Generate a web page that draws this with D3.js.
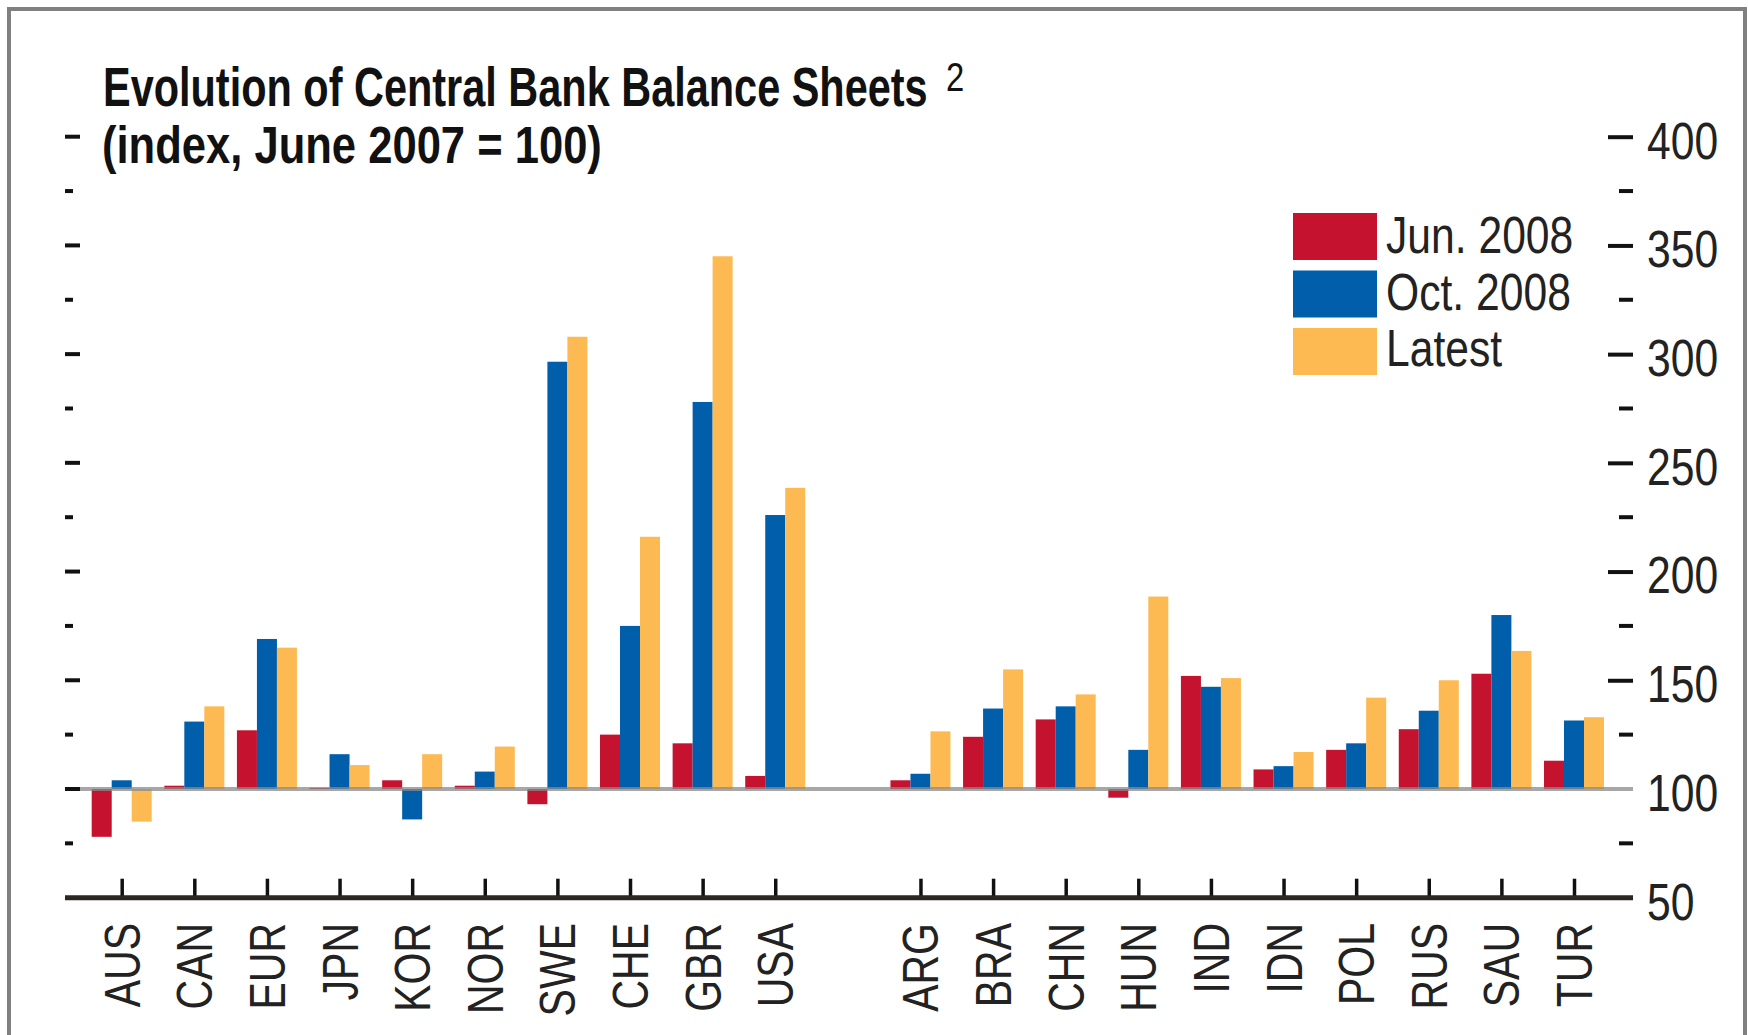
<!DOCTYPE html>
<html><head><meta charset="utf-8">
<script src="https://cdn.jsdelivr.net/npm/d3@7"></script>
<style>
html,body{margin:0;padding:0;background:#fff;}
svg{display:block;}
text{font-family:"Liberation Sans",Arial,Helvetica,sans-serif;}
</style></head>
<body>
<svg id="chart" width="1748" height="1035"></svg>
<script>
const advanced = ["AUS","CAN","EUR","JPN","KOR","NOR","SWE","CHE","GBR","USA"];
const emerging = ["ARG","BRA","CHN","HUN","IND","IDN","POL","RUS","SAU","TUR"];
const categories = advanced.concat(emerging);
const seriesNames = ["Jun. 2008","Oct. 2008","Latest"];
const jun2008 = [78,101.5,127,100.5,104,101.5,93,125,121,106, 104,124,132,96,152,109,118,127.5,153,113];
const oct2008 = [104,131,169,116,86,108,296.5,175,278,226, 107,137,138,118,147,110.5,121,136,180,131.5];
const latest  = [85,138,165,111,116,119.5,308,216,345,238.5, 126.5,155,143.5,188.5,151,117,142,150,163.5,133];
const majorTicks = [100,150,200,250,300,350,400];
const minorTicks = [75,125,175,225,275,325,375];
const rightLabels = [50,100,150,200,250,300,350,400];
const colors = ["#c4122f","#005eaa","#fdba52"];
const NARROW = 0.82;

const svg = d3.select("#chart");
// frame
svg.append("path").attr("d","M9,1040 L9,9 L1745,9 L1745,1040")
  .attr("fill","none").attr("stroke","#808080").attr("stroke-width",4);

const slots = advanced.concat([" "], emerging);
const x = d3.scalePoint().domain(slots).range([121.7,1574]);
const y = d3.scaleLinear().domain([50,400]).range([897.7,136.7]);
const xs = d3.scaleBand().domain(seriesNames).range([-30,30]);

const values = [jun2008, oct2008, latest];
const rows = [];
categories.forEach((c,i)=>{
  seriesNames.forEach((s,j)=>rows.push({c, s, j, v: values[j][i]}));
});

svg.append("g").selectAll("rect").data(rows).join("rect")
  .attr("x", d=>x(d.c)+xs(d.s))
  .attr("width", xs.bandwidth())
  .attr("y", d=>Math.min(y(d.v), y(100)))
  .attr("height", d=>Math.abs(y(d.v)-y(100)))
  .attr("fill", d=>colors[d.j]);

// baseline at 100
svg.append("line").attr("x1",65).attr("x2",1633).attr("y1",y(100)).attr("y2",y(100))
  .attr("stroke","#8a8a8a").attr("stroke-opacity",0.75).attr("stroke-width",4);

// left ticks
svg.append("g").selectAll("line").data(majorTicks).join("line")
  .attr("x1",65).attr("x2",80).attr("y1",d=>y(d)).attr("y2",d=>y(d))
  .attr("stroke","#111").attr("stroke-width",4);
svg.append("g").selectAll("line").data(minorTicks).join("line")
  .attr("x1",65).attr("x2",73).attr("y1",d=>y(d)).attr("y2",d=>y(d))
  .attr("stroke","#111").attr("stroke-width",4);

// right axis
const rAxis = d3.axisRight(y).tickValues(majorTicks.filter(v=>v!==100)).tickSize(25).tickFormat("");
const rg = svg.append("g").attr("transform","translate(1608,0)").call(rAxis);
rg.select(".domain").remove();
rg.selectAll(".tick line").attr("stroke","#111").attr("stroke-width",4);
svg.append("g").selectAll("line").data(minorTicks).join("line")
  .attr("x1",1619).attr("x2",1633).attr("y1",d=>y(d)).attr("y2",d=>y(d))
  .attr("stroke","#111").attr("stroke-width",4);
svg.append("g").selectAll("text").data(rightLabels).join("text")
  .attr("transform",d=>`translate(1647,${y(d)}) scale(${NARROW},1)`).attr("dy","0.42em")
  .attr("font-size",52).attr("fill","#222").text(d=>d);

// bottom axis
const bAxis = d3.axisBottom(x).tickValues(categories).tickSize(-19).tickFormat("");
const bg = svg.append("g").attr("transform",`translate(0,${y(50)})`).call(bAxis);
bg.select(".domain").remove();
bg.selectAll(".tick line").attr("stroke","#111").attr("stroke-width",3.5);
svg.append("line").attr("x1",65).attr("x2",1633).attr("y1",y(50)).attr("y2",y(50))
  .attr("stroke","#2a2620").attr("stroke-width",5);
svg.append("g").selectAll("text").data(categories).join("text")
  .attr("transform",d=>`translate(${x(d)},923) rotate(-90) scale(${NARROW},1)`)
  .attr("text-anchor","end").attr("dy","0.36em")
  .attr("font-size",50).attr("fill","#222").text(d=>d);

// title (condensed to the reference widths)
function fitText(tx, ty, size, target, str){
  const t = svg.append("text").attr("font-size",size).attr("font-weight","bold")
    .attr("fill","#111").text(str);
  const w = t.node().getComputedTextLength();
  t.attr("transform",`translate(${tx},${ty}) scale(${target/w},1)`);
}
fitText(103, 106, 55, 825, "Evolution of Central Bank Balance Sheets");
fitText(102, 163, 52, 500, "(index, June 2007 = 100)");
svg.append("text").attr("transform",`translate(946,91) scale(${NARROW},1)`)
  .attr("font-size",40).attr("fill","#111").text("2");

// legend
const lg = svg.append("g");
seriesNames.forEach((s,j)=>{
  lg.append("rect").attr("x",1293).attr("y",213+j*57.5).attr("width",84).attr("height",47).attr("fill",colors[j]);
  lg.append("text").attr("transform",`translate(1386,${253+j*56.5}) scale(${NARROW},1)`)
    .attr("font-size",52).attr("fill","#222").text(s);
});
</script>
</body></html>
